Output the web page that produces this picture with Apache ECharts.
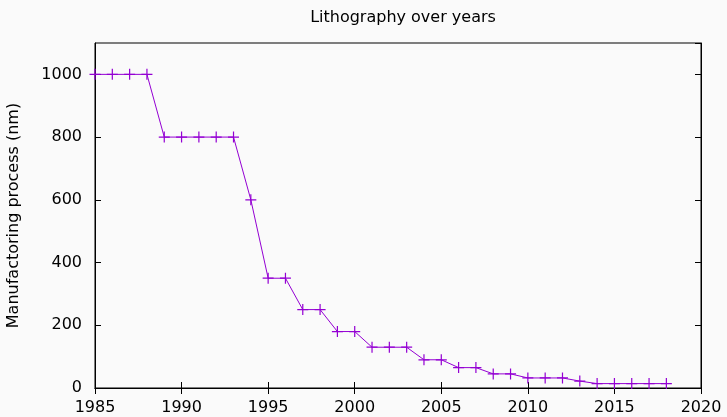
<!DOCTYPE html>
<html><head><meta charset="utf-8">
<script src="https://cdn.jsdelivr.net/npm/echarts@6/dist/echarts.min.js"></script>
<style>html,body{margin:0;padding:0;background:#fafafa;}#c{width:727px;height:417px;}</style>
</head><body><div id="c"></div>
<script>
const years = [1985,1986,1987,1988,1989,1990,1991,1992,1993,1994,1995,1996,1997,1998,1999,2000,2001,2002,2003,2004,2005,2006,2007,2008,2009,2010,2011,2012,2013,2014,2015,2016,2017,2018];
const process_nm = [1000,1000,1000,1000,800,800,800,800,800,600,350,350,250,250,180,180,130,130,130,90,90,65,65,45,45,32,32,32,22,14,14,14,14,14];
const titleText = "Lithography over years";
const yName = "Manufactoring process (nm)";

const plus = 'path://M4.45,0h1.1v4.45h4.45v1.1h-4.45v4.45h-1.1v-4.45h-4.45v-1.1h4.45z';
const font = 'DejaVu Sans';
const chart = echarts.init(document.getElementById('c'));
const axisCommon = {
  axisLine: {show: true, lineStyle: {color: '#000', width: 1}},
  axisTick: {show: true, inside: true, length: 6, lineStyle: {color: '#000'}},
  splitLine: {show: false}
};
const plain = v => String(v);
chart.setOption({
  backgroundColor: '#fafafa',
  animation: false,
  title: {text: titleText, left: 398, top: 5, textAlign: 'center',
    textStyle: {fontFamily: font, fontSize: 16, fontWeight: 'normal', color: '#000'}},
  grid: {left: 95, right: 26, top: 43, bottom: 29, show: true, borderColor: '#000', borderWidth: 1,
    backgroundColor: 'transparent', containLabel: false, outerBoundsMode: 'none'},
  xAxis: [
    Object.assign({type: 'value', min: 1985, max: 2020, interval: 5, position: 'bottom',
      axisLabel: {fontFamily: font, fontSize: 16, color: '#000', margin: 12, formatter: plain}}, axisCommon),
    Object.assign({type: 'value', min: 1985, max: 2020, interval: 5, position: 'top',
      axisLabel: {show: false}}, axisCommon)
  ],
  yAxis: [
    Object.assign({type: 'value', min: 0, max: 1100, interval: 200, position: 'left',
      name: yName, nameLocation: 'middle', nameGap: 73, nameRotate: 90,
      nameTextStyle: {fontFamily: font, fontSize: 16, color: '#000'},
      axisLabel: {fontFamily: font, fontSize: 16, color: '#000', margin: 13, formatter: plain,
        showMaxLabel: false}}, axisCommon),
    Object.assign({type: 'value', min: 0, max: 1100, interval: 200, position: 'right',
      axisLabel: {show: false}}, axisCommon)
  ],
  series: [{
    type: 'line',
    data: years.map((y, i) => [y, process_nm[i]]),
    symbol: plus, symbolSize: 11,
    showAllSymbol: true,
    lineStyle: {color: '#9400d3', width: 1},
    itemStyle: {color: '#9400d3'}
  }]
});
</script></body></html>
